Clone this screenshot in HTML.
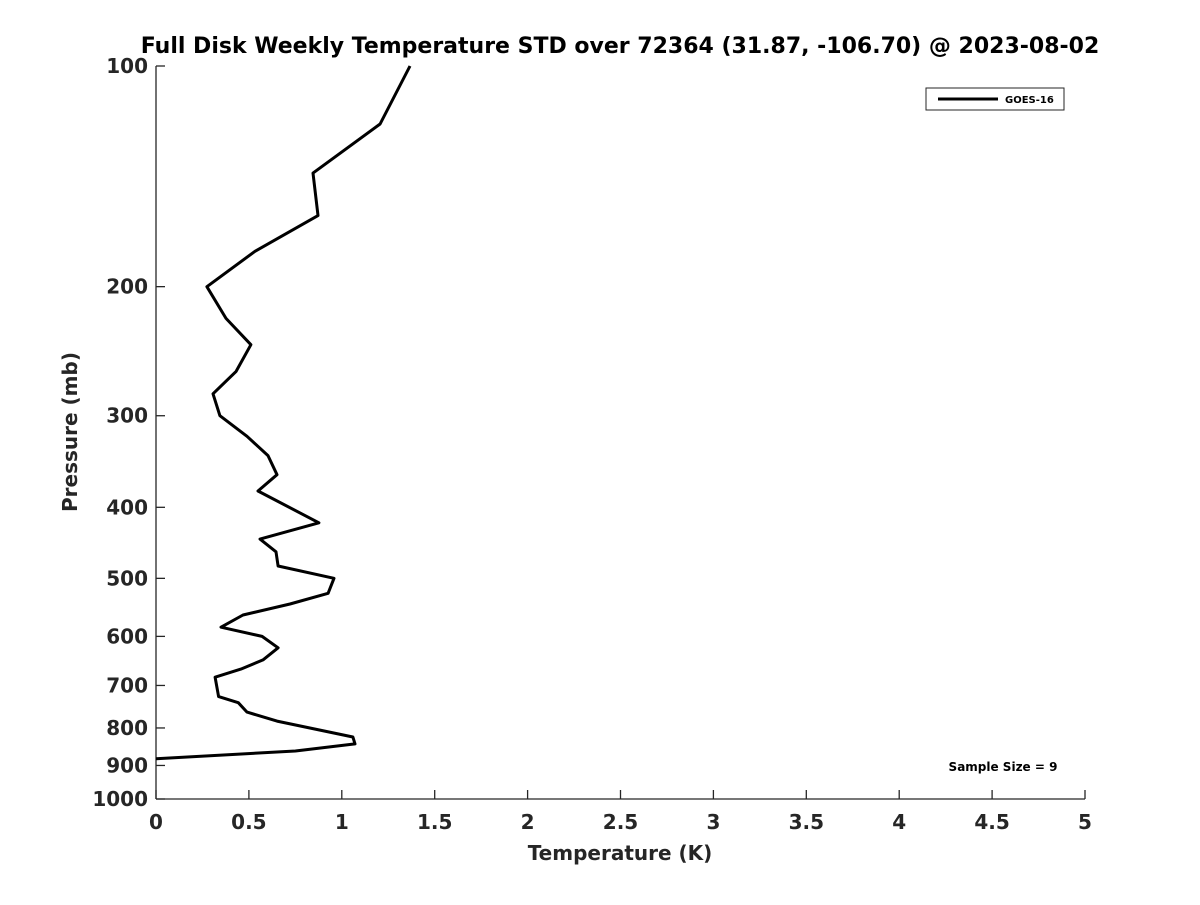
<!DOCTYPE html>
<html><head><meta charset="utf-8"><style>
html,body{margin:0;padding:0;background:#fff;}
svg text{font-family:"DejaVu Sans","Liberation Sans",sans-serif;font-weight:bold;}
</style></head><body>
<svg id="chart" width="1200" height="900" xmlns="http://www.w3.org/2000/svg">
<rect width="1200" height="900" fill="#fff"/>
<text x="620" y="53" font-size="22" text-anchor="middle" fill="#000">Full Disk Weekly Temperature STD over 72364 (31.87, -106.70) @ 2023-08-02</text>
<g id="axes"></g>
<text x="620" y="860" font-size="20" text-anchor="middle" fill="#262626">Temperature (K)</text>
<text transform="translate(77,432) rotate(-90)" font-size="20" text-anchor="middle" fill="#262626">Pressure (mb)</text>
<g>
<rect x="926" y="88" width="138" height="22" fill="#fff" stroke="#262626" stroke-width="1"/>
<line x1="938" y1="99" x2="998" y2="99" stroke="#000" stroke-width="3"/>
<text x="1005" y="103" font-size="10" fill="#000">GOES-16</text>
</g>
<text x="1003" y="771" font-size="12" text-anchor="middle" fill="#000">Sample Size = 9</text>
</svg>
<script>
const temps = [1.367,1.206,0.845,0.872,0.533,0.274,0.377,0.511,0.431,0.307,0.344,0.49,0.603,0.651,0.549,0.877,0.56,0.646,0.657,0.958,0.926,0.721,0.468,0.35,0.571,0.657,0.576,0.457,0.318,0.337,0.443,0.49,0.651,1.06,1.071,0.75,0.0];
const pressures = [100,120,140,160,179,200,221,240,261,280,300,320,340,361,380,420,442,460,481,500,524,542,561,583,600,622,646,665,682,725,739,761,783,823,841,860,881];
const xTicks = [0,0.5,1,1.5,2,2.5,3,3.5,4,4.5,5];
const xTickLabels = ["0","0.5","1","1.5","2","2.5","3","3.5","4","4.5","5"];
const yTicks = [100,200,300,400,500,600,700,800,900,1000];
const yTickLabels = ["100","200","300","400","500","600","700","800","900","1000"];
const X0=156,X1=1085,Y0=66,Y1=799;
function xs(v){return X0+(v-0)/(5-0)*(X1-X0);}
function ys(p){return Y0+(Math.log10(p)-2)/(3-2)*(Y1-Y0);}
const NS="http://www.w3.org/2000/svg";
const g=document.getElementById('axes');
function mk(tag,attrs){const e=document.createElementNS(NS,tag);for(const k in attrs)e.setAttribute(k,attrs[k]);g.appendChild(e);return e;}
let e;
e=mk('line',{x1:X0,y1:Y1,x2:X1,y2:Y1,stroke:'#262626','stroke-width':1.3});


e=mk('line',{x1:X0,y1:Y0,x2:X0,y2:Y1,stroke:'#262626','stroke-width':1.3});


xTicks.forEach((v,i)=>{
  const x=xs(v);
  let t=mk('line',{x1:x,y1:Y1,x2:x,y2:Y1-9,stroke:'#262626','stroke-width':1.3});
  
  
  let l=mk('text',{x:x,y:Y1+30,'font-size':20,'text-anchor':'middle',fill:'#262626'});
  l.textContent=xTickLabels[i];
  
  
});
yTicks.forEach((p,i)=>{
  const y=ys(p);
  let t=mk('line',{x1:X0,y1:y,x2:X0+9,y2:y,stroke:'#262626','stroke-width':1.3});
  
  
  let l=mk('text',{x:X0-8,y:y+7,'font-size':20,'text-anchor':'end',fill:'#262626'});
  l.textContent=yTickLabels[i];
  
  
});
const pts=temps.map((t,i)=>xs(t).toFixed(1)+','+ys(pressures[i]).toFixed(1)).join(' ');
e=mk('polyline',{points:pts,fill:'none',stroke:'#000','stroke-width':3,'stroke-linejoin':'round'});


</script>
</body></html>
